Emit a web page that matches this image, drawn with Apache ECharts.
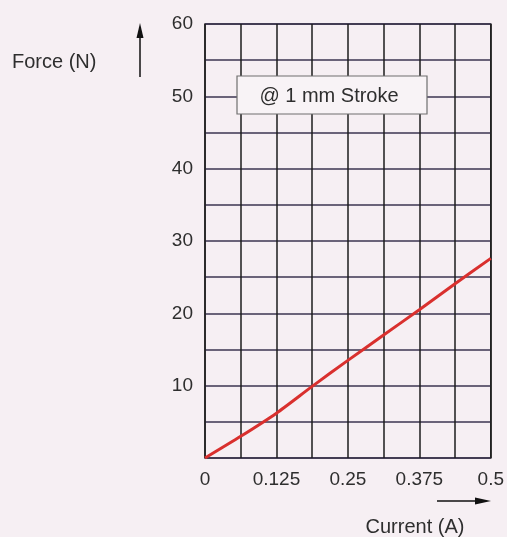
<!DOCTYPE html>
<html>
<head>
<meta charset="utf-8">
<script src="https://cdn.jsdelivr.net/npm/echarts@6/dist/echarts.min.js"></script>
<style>
html,body{margin:0;padding:0;background:#f6eff3;}
#c{width:507px;height:537px;}
</style>
</head>
<body>
<div id="c"></div>
<script>
const currentA = [0, 0.0625, 0.125, 0.1875, 0.25, 0.3125, 0.375, 0.4375, 0.5];
const forceN = [0, 3.0, 6.2, 9.9, 13.5, 17.0, 20.5, 24.1, 27.6];
const xTickLabels = [0, 0.125, 0.25, 0.375, 0.5];
const yTickLabels = [10, 20, 30, 40, 50, 60];
const annotation = '@ 1 mm Stroke';

const chart = echarts.init(document.getElementById('c'), null, {renderer: 'canvas'});
const font = 'Liberation Sans, Arial, sans-serif';
chart.setOption({
  backgroundColor: '#f6eff3',
  animation: false,
  grid: {left: 205, right: 14, top: 24, bottom: 79, show: true, borderColor: '#2a2a2a', borderWidth: 1.5, backgroundColor: 'transparent'},
  xAxis: {
    type: 'value', min: 0, max: 0.5, interval: 0.0625,
    axisLine: {show: false}, axisTick: {show: false},
    splitLine: {show: true, lineStyle: {color: '#1c1c1c', width: 1.5}},
    axisLabel: {
      margin: 12, fontFamily: font, fontSize: 19, color: '#2e2e2e', showMaxLabel: true,
      formatter: v => xTickLabels.some(t => Math.abs(t - v) < 1e-9) ? String(v) : ''
    }
  },
  yAxis: {
    type: 'value', min: 0, max: 60, interval: 5,
    axisLine: {show: false}, axisTick: {show: false},
    splitLine: {show: true, lineStyle: {color: '#3b3550', width: 1.5}},
    axisLabel: {
      margin: 12, fontFamily: font, fontSize: 19, color: '#2e2e2e', padding: [0, 0, 3, 0],
      formatter: v => yTickLabels.includes(v) ? String(v) : ''
    }
  },
  series: [{
    type: 'line', smooth: 0.25, symbol: 'none',
    data: currentA.map((x, i) => [x, forceN[i]]),
    lineStyle: {color: '#d9302e', width: 3}
  }],
  graphic: [
    {type: 'rect', shape: {x: 237, y: 76, width: 190, height: 38}, style: {fill: '#f8f3f6', stroke: '#6f6f6f', lineWidth: 1.2}, z: 100},
    {type: 'text', x: 329, y: 96, style: {text: annotation, font: '20px ' + font, fill: '#2e2e2e', align: 'center', verticalAlign: 'middle'}, z: 101},
    {type: 'text', x: 12, y: 62, style: {text: 'Force (N)', font: '20px ' + font, fill: '#2e2e2e', align: 'left', verticalAlign: 'middle'}},
    {type: 'line', shape: {x1: 140, y1: 77, x2: 140, y2: 34}, style: {stroke: '#111', lineWidth: 1.5}},
    {type: 'polygon', shape: {points: [[140, 23], [136.5, 38], [143.5, 38]]}, style: {fill: '#111'}},
    {type: 'line', shape: {x1: 437, y1: 501, x2: 478, y2: 501}, style: {stroke: '#111', lineWidth: 1.5}},
    {type: 'polygon', shape: {points: [[491, 501], [475, 497.5], [475, 504.5]]}, style: {fill: '#111'}},
    {type: 'text', x: 415, y: 527, style: {text: 'Current (A)', font: '20px ' + font, fill: '#2e2e2e', align: 'center', verticalAlign: 'middle'}}
  ]
});
</script>
</body>
</html>
